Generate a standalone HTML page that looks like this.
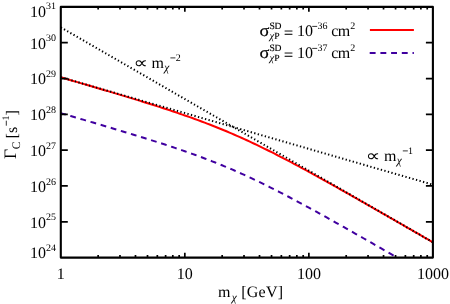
<!DOCTYPE html>
<html><head><meta charset="utf-8"><style>
html,body{margin:0;padding:0;background:#fff;overflow:hidden;}
svg{display:block;will-change:transform;}
text{font-family:"Liberation Serif",serif;fill:#000;text-rendering:geometricPrecision;}
.t{font-size:16px;}
.s{font-size:10px;}
.u{font-size:9px;stroke:#000;stroke-width:0.15px;}
</style></head><body>
<svg width="450" height="304" viewBox="0 0 450 304">
<rect width="450" height="304" fill="#fff"/>
<defs><clipPath id="c"><rect x="60.8" y="6.9" width="372.09999999999997" height="250.70000000000002"/></clipPath></defs>
<g clip-path="url(#c)" fill="none">
<path d="M60.80,77.32 L63.28,78.05 L65.76,78.77 L68.24,79.49 L70.72,80.22 L73.20,80.94 L75.68,81.66 L78.16,82.39 L80.65,83.12 L83.13,83.84 L85.61,84.57 L88.09,85.30 L90.57,86.03 L93.05,86.76 L95.53,87.49 L98.01,88.22 L100.49,88.95 L102.97,89.69 L105.45,90.42 L107.93,91.16 L110.41,91.90 L112.89,92.64 L115.37,93.38 L117.86,94.12 L120.34,94.87 L122.82,95.61 L125.30,96.36 L127.78,97.11 L130.26,97.87 L132.74,98.62 L135.22,99.38 L137.70,100.14 L140.18,100.91 L142.66,101.67 L145.14,102.44 L147.62,103.22 L150.10,104.00 L152.58,104.78 L155.07,105.57 L157.55,106.36 L160.03,107.15 L162.51,107.95 L164.99,108.76 L167.47,109.57 L169.95,110.39 L172.43,111.21 L174.91,112.04 L177.39,112.88 L179.87,113.72 L182.35,114.58 L184.83,115.44 L187.31,116.30 L189.79,117.18 L192.28,118.06 L194.76,118.96 L197.24,119.86 L199.72,120.77 L202.20,121.69 L204.68,122.63 L207.16,123.57 L209.64,124.53 L212.12,125.49 L214.60,126.47 L217.08,127.46 L219.56,128.46 L222.04,129.47 L224.52,130.49 L227.00,131.53 L229.49,132.58 L231.97,133.64 L234.45,134.71 L236.93,135.80 L239.41,136.89 L241.89,138.00 L244.37,139.13 L246.85,140.26 L249.33,141.41 L251.81,142.57 L254.29,143.74 L256.77,144.92 L259.25,146.11 L261.73,147.31 L264.21,148.53 L266.70,149.75 L269.18,150.98 L271.66,152.23 L274.14,153.48 L276.62,154.74 L279.10,156.02 L281.58,157.30 L284.06,158.58 L286.54,159.88 L289.02,161.18 L291.50,162.49 L293.98,163.81 L296.46,165.13 L298.94,166.46 L301.42,167.80 L303.91,169.14 L306.39,170.49 L308.87,171.84 L311.35,173.20 L313.83,174.56 L316.31,175.92 L318.79,177.29 L321.27,178.67 L323.75,180.05 L326.23,181.43 L328.71,182.81 L331.19,184.20 L333.67,185.59 L336.15,186.98 L338.63,188.37 L341.12,189.77 L343.60,191.17 L346.08,192.57 L348.56,193.98 L351.04,195.38 L353.52,196.79 L356.00,198.20 L358.48,199.61 L360.96,201.02 L363.44,202.43 L365.92,203.85 L368.40,205.26 L370.88,206.68 L373.36,208.10 L375.84,209.52 L378.33,210.94 L380.81,212.36 L383.29,213.78 L385.77,215.20 L388.25,216.62 L390.73,218.05 L393.21,219.47 L395.69,220.90 L398.17,222.32 L400.65,223.75 L403.13,225.17 L405.61,226.60 L408.09,228.03 L410.57,229.45 L413.05,230.88 L415.54,232.31 L418.02,233.74 L420.50,235.17 L422.98,236.59 L425.46,238.02 L427.94,239.45 L430.42,240.88 L432.90,242.31" stroke="#f00" stroke-width="2"/>
<path d="M60.80,113.14 L63.28,113.86 L65.76,114.58 L68.24,115.31 L70.72,116.03 L73.20,116.75 L75.68,117.48 L78.16,118.20 L80.65,118.93 L83.13,119.66 L85.61,120.38 L88.09,121.11 L90.57,121.84 L93.05,122.57 L95.53,123.30 L98.01,124.03 L100.49,124.77 L102.97,125.50 L105.45,126.24 L107.93,126.97 L110.41,127.71 L112.89,128.45 L115.37,129.19 L117.86,129.93 L120.34,130.68 L122.82,131.43 L125.30,132.18 L127.78,132.93 L130.26,133.68 L132.74,134.44 L135.22,135.19 L137.70,135.96 L140.18,136.72 L142.66,137.49 L145.14,138.26 L147.62,139.03 L150.10,139.81 L152.58,140.59 L155.07,141.38 L157.55,142.17 L160.03,142.97 L162.51,143.77 L164.99,144.57 L167.47,145.39 L169.95,146.20 L172.43,147.03 L174.91,147.86 L177.39,148.69 L179.87,149.54 L182.35,150.39 L184.83,151.25 L187.31,152.12 L189.79,152.99 L192.28,153.88 L194.76,154.77 L197.24,155.67 L199.72,156.59 L202.20,157.51 L204.68,158.44 L207.16,159.39 L209.64,160.34 L212.12,161.31 L214.60,162.28 L217.08,163.27 L219.56,164.27 L222.04,165.28 L224.52,166.31 L227.00,167.34 L229.49,168.39 L231.97,169.45 L234.45,170.53 L236.93,171.61 L239.41,172.71 L241.89,173.82 L244.37,174.94 L246.85,176.08 L249.33,177.22 L251.81,178.38 L254.29,179.55 L256.77,180.73 L259.25,181.92 L261.73,183.13 L264.21,184.34 L266.70,185.56 L269.18,186.80 L271.66,188.04 L274.14,189.30 L276.62,190.56 L279.10,191.83 L281.58,193.11 L284.06,194.40 L286.54,195.69 L289.02,197.00 L291.50,198.31 L293.98,199.62 L296.46,200.95 L298.94,202.28 L301.42,203.61 L303.91,204.96 L306.39,206.30 L308.87,207.66 L311.35,209.01 L313.83,210.37 L316.31,211.74 L318.79,213.11 L321.27,214.48 L323.75,215.86 L326.23,217.24 L328.71,218.62 L331.19,220.01 L333.67,221.40 L336.15,222.79 L338.63,224.19 L341.12,225.59 L343.60,226.99 L346.08,228.39 L348.56,229.79 L351.04,231.20 L353.52,232.60 L356.00,234.01 L358.48,235.42 L360.96,236.83 L363.44,238.25 L365.92,239.66 L368.40,241.08 L370.88,242.49 L373.36,243.91 L375.84,245.33 L378.33,246.75 L380.81,248.17 L383.29,249.59 L385.77,251.02 L388.25,252.44 L390.73,253.86 L393.21,255.29 L395.69,256.71 L398.17,258.13 L400.65,259.56 L403.13,260.99 L405.61,262.41 L408.09,263.84 L410.57,265.27 L413.05,266.69 L415.54,268.12 L418.02,269.55 L420.50,270.98 L422.98,272.41 L425.46,273.84 L427.94,275.27 L430.42,276.70 L432.90,278.13" stroke="#4000a0" stroke-width="2" stroke-dasharray="5.8,4.74" stroke-dashoffset="0.64"/>
<path d="M60.80,27.39 L432.90,242.27" stroke="#000" stroke-width="2" stroke-dasharray="1.3,2.36"/>
<path d="M60.80,77.24 L432.90,184.68" stroke="#000" stroke-width="2" stroke-dasharray="1.3,2.36"/>
</g>
<path d="M98.14,257.6 v-2.6 M98.14,6.9 v2.6 M119.98,257.6 v-2.6 M119.98,6.9 v2.6 M135.48,257.6 v-2.6 M135.48,6.9 v2.6 M147.50,257.6 v-2.6 M147.50,6.9 v2.6 M157.32,257.6 v-2.6 M157.32,6.9 v2.6 M165.62,257.6 v-2.6 M165.62,6.9 v2.6 M172.81,257.6 v-2.6 M172.81,6.9 v2.6 M179.16,257.6 v-2.6 M179.16,6.9 v2.6 M222.17,257.6 v-2.6 M222.17,6.9 v2.6 M244.01,257.6 v-2.6 M244.01,6.9 v2.6 M259.51,257.6 v-2.6 M259.51,6.9 v2.6 M271.53,257.6 v-2.6 M271.53,6.9 v2.6 M281.35,257.6 v-2.6 M281.35,6.9 v2.6 M289.65,257.6 v-2.6 M289.65,6.9 v2.6 M296.85,257.6 v-2.6 M296.85,6.9 v2.6 M303.19,257.6 v-2.6 M303.19,6.9 v2.6 M346.20,257.6 v-2.6 M346.20,6.9 v2.6 M368.05,257.6 v-2.6 M368.05,6.9 v2.6 M383.54,257.6 v-2.6 M383.54,6.9 v2.6 M395.56,257.6 v-2.6 M395.56,6.9 v2.6 M405.38,257.6 v-2.6 M405.38,6.9 v2.6 M413.69,257.6 v-2.6 M413.69,6.9 v2.6 M420.88,257.6 v-2.6 M420.88,6.9 v2.6 M427.22,257.6 v-2.6 M427.22,6.9 v2.6 M184.83,257.6 v-4.8 M184.83,6.9 v4.8 M308.87,257.6 v-4.8 M308.87,6.9 v4.8 M60.8,221.79 h7.0 M432.9,221.79 h-7.0 M60.8,185.97 h7.0 M432.9,185.97 h-7.0 M60.8,150.16 h7.0 M432.9,150.16 h-7.0 M60.8,114.34 h7.0 M432.9,114.34 h-7.0 M60.8,78.53 h7.0 M432.9,78.53 h-7.0 M60.8,42.71 h7.0 M432.9,42.71 h-7.0" stroke="#000" stroke-width="1.7" fill="none"/>
<rect x="60.8" y="6.9" width="372.09999999999997" height="250.70000000000002" fill="none" stroke="#000" stroke-width="2.1" stroke-linejoin="round"/>
<text x="30.0" y="258.3" class="t">10</text><text x="46.0" y="251.1" class="s">24</text>
<text x="30.0" y="227.6" class="t">10</text><text x="46.0" y="220.4" class="s">25</text>
<text x="30.0" y="191.8" class="t">10</text><text x="46.0" y="184.6" class="s">26</text>
<text x="30.0" y="156.0" class="t">10</text><text x="46.0" y="148.8" class="s">27</text>
<text x="30.0" y="120.1" class="t">10</text><text x="46.0" y="112.9" class="s">28</text>
<text x="30.0" y="84.3" class="t">10</text><text x="46.0" y="77.1" class="s">29</text>
<text x="30.0" y="48.5" class="t">10</text><text x="46.0" y="41.3" class="s">30</text>
<text x="30.0" y="16.6" class="t">10</text><text x="46.0" y="9.4" class="s">31</text>

<text x="60.8" y="278.9" text-anchor="middle" class="t">1</text>
<text x="184.8" y="278.9" text-anchor="middle" class="t">10</text>
<text x="308.9" y="278.9" text-anchor="middle" class="t">100</text>
<text x="432.9" y="278.9" text-anchor="middle" class="t">1000</text>

<text transform="translate(259.5,36) scale(1.08,1)" class="t" style="font-size:17px;stroke:#000;stroke-width:0.2px">σ</text>
<text x="269.6" y="28.9" class="u" style="font-size:9.6px;letter-spacing:-0.5px">SD</text>
<text x="269.5" y="38.6" style="font-size:10.5px" font-style="italic">χ</text>
<text x="274.2" y="38.7" class="u" style="font-size:9.6px">P</text>
<text x="283.9" y="37.6" class="t" style="stroke:#000;stroke-width:0.2px">=</text>
<text x="297" y="36" class="t">10</text>
<path d="M312.20,26.40 h5" stroke="#000" stroke-width="0.8" fill="none"/><text x="317.50" y="29.00" class="s">36</text>
<text x="331.3" y="36" class="t" style="letter-spacing:-0.7px">cm</text>
<text x="350.2" y="29" class="s">2</text>

<text transform="translate(259.5,58) scale(1.08,1)" class="t" style="font-size:17px;stroke:#000;stroke-width:0.2px">σ</text>
<text x="269.6" y="50.9" class="u" style="font-size:9.6px;letter-spacing:-0.5px">SD</text>
<text x="269.5" y="60.6" style="font-size:10.5px" font-style="italic">χ</text>
<text x="274.2" y="60.7" class="u" style="font-size:9.6px">P</text>
<text x="283.9" y="59.6" class="t" style="stroke:#000;stroke-width:0.2px">=</text>
<text x="297" y="58" class="t">10</text>
<path d="M312.20,48.40 h5" stroke="#000" stroke-width="0.8" fill="none"/><text x="317.50" y="51.00" class="s">37</text>
<text x="331.3" y="58" class="t" style="letter-spacing:-0.7px">cm</text>
<text x="350.2" y="51" class="s">2</text>

<path d="M369.9,29.9 H413.9" stroke="#f00" stroke-width="2"/>
<path d="M369.7,52.9 H413.9" stroke="#4000a0" stroke-width="2" stroke-dasharray="5.9,4.8"/>
<text transform="translate(133.4,67.5) scale(1.27,1)" class="t">∝</text>
<text x="151.5" y="67.5" class="t">m</text>
<text x="164.3" y="71.3" class="s" style="font-size:11.5px" font-style="italic">χ</text>
<path d="M170.40,57.90 h5" stroke="#000" stroke-width="0.8" fill="none"/><text x="175.70" y="60.50" class="s">2</text>

<text transform="translate(365.79999999999995,160.5) scale(1.27,1)" class="t">∝</text>
<text x="383.9" y="160.5" class="t">m</text>
<text x="396.7" y="164.3" class="s" style="font-size:11.5px" font-style="italic">χ</text>
<path d="M402.80,150.90 h5" stroke="#000" stroke-width="0.8" fill="none"/><text x="408.10" y="153.50" class="s">1</text>

<text x="218" y="296.7" class="t">m</text><text x="231.7" y="300.5" class="s" style="font-size:11.5px" font-style="italic">χ</text><text x="241.2" y="296.7" class="t" style="letter-spacing:0.25px">[GeV]</text>
<g transform="translate(16.8,158.6) rotate(-90)">
<text x="-0.5" y="-0.5" class="t" style="font-size:17.5px">Γ</text><text x="9.4" y="3.3" class="s" style="font-size:11.5px">C</text><text x="20.2" y="0" class="t">[s</text><path d="M32.90,-10.50 h5" stroke="#000" stroke-width="0.8" fill="none"/><text x="38.20" y="-7.90" class="s">1</text><text x="43.2" y="0" class="t">]</text>
</g>
</svg>
</body></html>
